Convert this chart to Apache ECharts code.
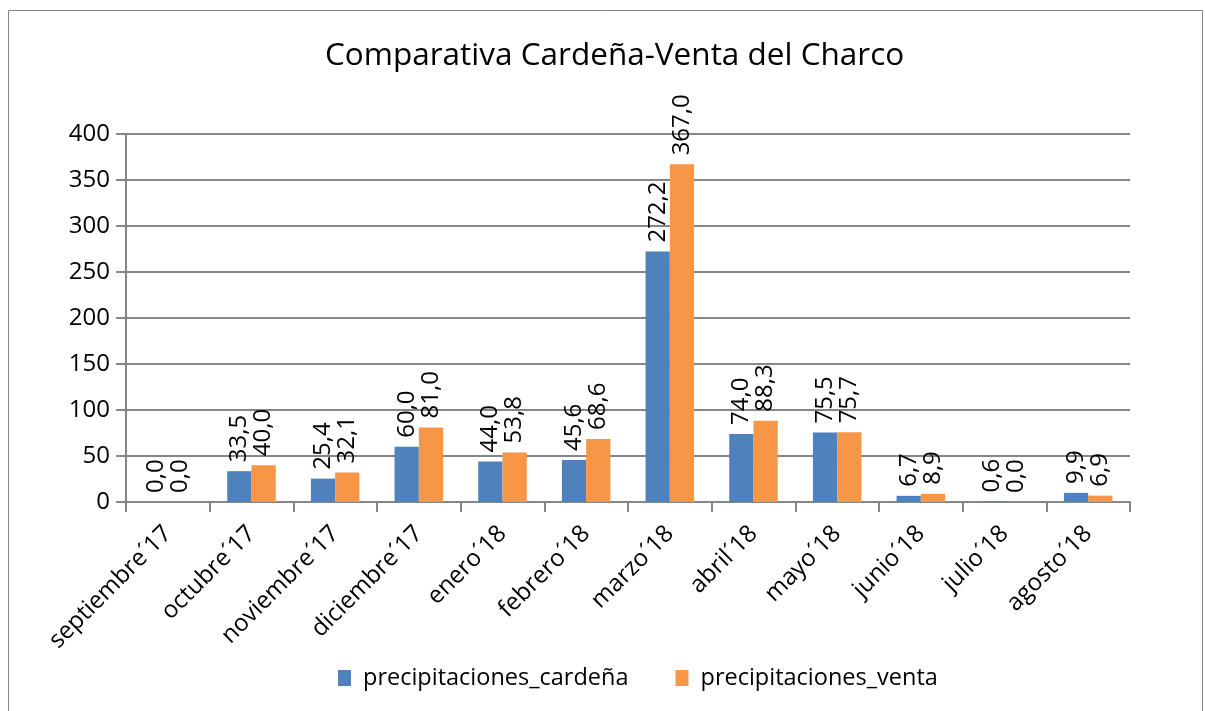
<!DOCTYPE html>
<html>
<head>
<meta charset="utf-8">
<script src="https://cdn.jsdelivr.net/npm/echarts@6/dist/echarts.min.js"></script>
<style>html,body{margin:0;padding:0;background:#fff}#c{width:1205px;height:711px}</style>
</head>
<body>
<div id="c"></div>
<script>
const categories = ['septiembre´17','octubre´17','noviembre´17','diciembre´17','enero´18','febrero´18','marzo´18','abril´18','mayo´18','junio´18','julio´18','agosto´18'];
const cardena = [0.0, 33.5, 25.4, 60.0, 44.0, 45.6, 272.2, 74.0, 75.5, 6.7, 0.6, 9.9];
const venta = [0.0, 40.0, 32.1, 81.0, 53.8, 68.6, 367.0, 88.3, 75.7, 8.9, 0.0, 6.9];
const seriesNames = ['precipitaciones_cardeña', 'precipitaciones_venta'];
const titleText = 'Comparativa Cardeña-Venta del Charco';

const FONT = 'Open Sans';
const chart = echarts.init(document.getElementById('c'));
const lbl = {
  show: true, position: 'top', rotate: 90, align: 'left', verticalAlign: 'middle',
  distance: 9, fontSize: 24, color: '#000', fontFamily: FONT,
  formatter: p => p.value.toFixed(1).replace('.', ',')
};
chart.setOption({
  animation: false,
  title: { text: titleText, left: 320, top: 35, textStyle: { fontFamily: FONT, fontSize: 31.5, fontWeight: 'normal', color: '#000' } },
  graphic: [{ type: 'rect', shape: { x: 8.5, y: 10.5, width: 1194, height: 720 }, style: { fill: 'none', stroke: '#868686', lineWidth: 1 }, silent: true }],
  grid: { left: 126, right: 75, top: 134, bottom: 209 },
  legend: {
    bottom: 16, left: 333, itemWidth: 13, itemHeight: 16, itemGap: 47,
    icon: 'rect',
    textStyle: { fontFamily: FONT, fontSize: 23.5, color: '#000', padding: [0, 0, 0, 7] }
  },
  xAxis: {
    type: 'category', data: categories,
    axisLine: { lineStyle: { color: '#868686', width: 2 } },
    axisTick: { show: true, length: 10, alignWithLabel: false, lineStyle: { color: '#868686', width: 2 } },
    axisLabel: { rotate: 45, fontFamily: FONT, fontSize: 24, color: '#000', margin: 28, interval: 0 }
  },
  yAxis: {
    type: 'value', min: 0, max: 400, interval: 50,
    axisLine: { show: true, lineStyle: { color: '#868686', width: 2 } },
    axisTick: { show: true, length: 10, lineStyle: { color: '#868686', width: 2 } },
    splitLine: { lineStyle: { color: '#868686', width: 2 } },
    axisLabel: { fontFamily: FONT, fontSize: 24, color: '#000', margin: 16 }
  },
  series: [
    { name: seriesNames[0], type: 'bar', data: cardena, itemStyle: { color: '#4F81BD' }, barGap: '0%', barCategoryGap: '42%', label: lbl },
    { name: seriesNames[1], type: 'bar', data: venta, itemStyle: { color: '#F79646' }, label: lbl }
  ]
});
</script>
</body>
</html>
